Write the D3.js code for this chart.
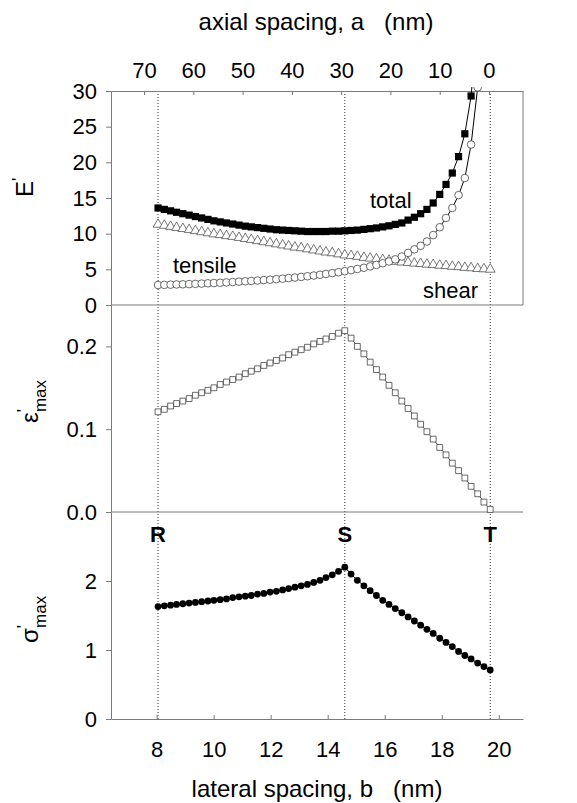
<!DOCTYPE html>
<html>
<head>
<meta charset="utf-8">
<script src="https://cdn.jsdelivr.net/npm/d3@7/dist/d3.min.js"></script>
<style>
body { margin: 0; background: #fff; }
text { font-family: "Liberation Sans", Arial, sans-serif; }
</style>
</head>
<body>
<script>
//lateral spacing b (nm) of each computed point, going R -> S -> T
var lateral = [8.05, 8.27, 8.49, 8.70, 8.92, 9.14, 9.36, 9.58, 9.80, 10.01,
    10.23, 10.45, 10.67, 10.89, 11.11, 11.32, 11.54, 11.76, 11.98, 12.20,
    12.42, 12.63, 12.85, 13.07, 13.29, 13.51, 13.73, 13.94, 14.16, 14.38,
    14.60, 14.82, 15.04, 15.27, 15.49, 15.71, 15.93, 16.15, 16.37, 16.60,
    16.82, 17.04, 17.26, 17.48, 17.70, 17.93, 18.15, 18.37, 18.59, 18.81,
    19.03, 19.26, 19.48, 19.70];
//E' components
var total = [13.6, 13.4, 13.2, 13.0, 12.8, 12.6, 12.4, 12.2, 12.0, 11.8,
    11.65, 11.5, 11.35, 11.2, 11.05, 10.95, 10.85, 10.75, 10.65, 10.55,
    10.5, 10.45, 10.4, 10.35, 10.3, 10.3, 10.3, 10.3, 10.35, 10.35,
    10.4, 10.45, 10.5, 10.6, 10.7, 10.8, 10.95, 11.1, 11.3, 11.5,
    11.9, 12.3, 12.8, 13.4, 14.3, 15.5, 16.9, 18.5, 20.8, 24.0,
    29.3, 40, 60, 100];
var tensile = [2.8, 2.82, 2.85, 2.88, 2.9, 2.93, 2.96, 3.0, 3.04, 3.08,
    3.12, 3.17, 3.22, 3.27, 3.32, 3.37, 3.43, 3.49, 3.55, 3.62,
    3.69, 3.77, 3.85, 3.94, 4.03, 4.13, 4.24, 4.35, 4.47, 4.6,
    4.74, 4.89, 5.05, 5.22, 5.41, 5.62, 5.85, 6.1, 6.4, 6.8,
    7.3, 7.8, 8.3, 8.9, 9.8, 10.9, 12.2, 13.6, 15.4, 17.8,
    22.5, 30.5, 45, 80];
var shear = [11.3, 11.15, 11.0, 10.85, 10.7, 10.55, 10.4, 10.25, 10.1, 9.95,
    9.85, 9.7, 9.6, 9.45, 9.3, 9.15, 9.0, 8.85, 8.7, 8.55,
    8.4, 8.25, 8.1, 8.0, 7.85, 7.7, 7.55, 7.4, 7.3, 7.15,
    7.0, 6.9, 6.8, 6.65, 6.55, 6.45, 6.35, 6.25, 6.1, 6.0,
    5.95, 5.85, 5.8, 5.7, 5.65, 5.55, 5.5, 5.4, 5.35, 5.25,
    5.2, 5.1, 5.05, 5.0];
//maximum strain and stress
var strainMax = [0.121, 0.124, 0.128, 0.131, 0.134, 0.137, 0.141, 0.144, 0.147, 0.150,
    0.154, 0.157, 0.160, 0.163, 0.167, 0.170, 0.173, 0.177, 0.180, 0.183,
    0.186, 0.190, 0.193, 0.196, 0.199, 0.203, 0.206, 0.209, 0.212, 0.216,
    0.219, 0.210, 0.200, 0.191, 0.181, 0.172, 0.163, 0.153, 0.144, 0.134,
    0.125, 0.116, 0.106, 0.097, 0.088, 0.078, 0.069, 0.059, 0.050, 0.041,
    0.031, 0.022, 0.012, 0.003];
var stressMax = [1.63, 1.64, 1.65, 1.66, 1.67, 1.68, 1.69, 1.70, 1.71, 1.72,
    1.73, 1.74, 1.76, 1.77, 1.78, 1.79, 1.81, 1.82, 1.84, 1.85,
    1.87, 1.89, 1.91, 1.93, 1.95, 1.98, 2.01, 2.05, 2.09, 2.14,
    2.20, 2.10, 2.01, 1.93, 1.86, 1.79, 1.72, 1.66, 1.60, 1.54,
    1.48, 1.42, 1.36, 1.30, 1.24, 1.17, 1.11, 1.05, 0.98, 0.92,
    0.87, 0.81, 0.76, 0.71];
//ticks
var axialTicks = [0, 10, 20, 30, 40, 50, 60, 70];
var lateralTicks = [8, 10, 12, 14, 16, 18, 20];
var eTicks = [0, 5, 10, 15, 20, 25, 30];
var strainTicks = [0, 0.1, 0.2];
var stressTicks = [0, 1, 2];
//special points (index into lateral)
var marks = [{name: "R", i: 0}, {name: "S", i: 30}, {name: "T", i: 53}];

window.onload = function(){
    var w = 577, h = 803;
    var svg = d3.select("body")
        .append("svg")
        .attr("width", w)
        .attr("height", h);

    var x = d3.scaleLinear().domain([6.4, 20.85]).range([111, 523]);
    var xTop = d3.scaleLinear().domain([76.7, -6.9]).range([111, 523]);
    var yE = d3.scaleLinear().domain([0, 30]).range([305, 91]);
    var yEps = d3.scaleLinear().domain([0, 0.25]).range([512, 305]);
    var ySig = d3.scaleLinear().domain([0, 3]).range([719, 512]);

    var axisColor = "#7a7a7a";
    function styleAxis(g){
        g.attr("font-family", "'Liberation Sans', Arial, sans-serif")
            .attr("font-size", 22);
        g.select(".domain").attr("stroke", axisColor);
        g.selectAll(".tick line").attr("stroke", axisColor);
        g.selectAll(".tick text").attr("fill", "#000");
    }

//dotted guide lines at R, S, T
    svg.selectAll(".guide")
        .data(marks)
        .enter()
        .append("line")
        .attr("class", "guide")
        .attr("x1", function(d){ return x(lateral[d.i]); })
        .attr("x2", function(d){ return x(lateral[d.i]); })
        .attr("y1", yE(30))
        .attr("y2", ySig(0))
        .attr("stroke", "#333")
        .attr("stroke-width", 1)
        .attr("stroke-dasharray", "1,2");

//axes
    svg.append("g")
        .attr("transform", "translate(0," + yE(30) + ")")
        .call(d3.axisTop(xTop).tickValues(axialTicks).tickSizeInner(-4).tickSizeOuter(0).tickPadding(13))
        .call(styleAxis);
    svg.append("g")
        .attr("transform", "translate(0," + ySig(0) + ")")
        .call(d3.axisBottom(x).tickValues(lateralTicks).tickSizeInner(-4).tickSizeOuter(0).tickPadding(22))
        .call(styleAxis);
    svg.append("g")
        .attr("transform", "translate(" + x.range()[0] + ",0)")
        .call(d3.axisLeft(yE).tickValues(eTicks).tickFormat(d3.format("d")).tickSize(5).tickSizeOuter(0).tickPadding(9))
        .call(styleAxis);
    svg.append("g")
        .attr("transform", "translate(" + x.range()[0] + ",0)")
        .call(d3.axisLeft(yEps).tickValues(strainTicks).tickFormat(d3.format(".1f")).tickSize(5).tickSizeOuter(0).tickPadding(9))
        .call(styleAxis);
    svg.append("g")
        .attr("transform", "translate(" + x.range()[0] + ",0)")
        .call(d3.axisLeft(ySig).tickValues(stressTicks).tickFormat(d3.format("d")).tickSize(5).tickSizeOuter(0).tickPadding(9))
        .call(styleAxis);
//panel separators and right border of top panel
    [yE(0), yEps(0)].forEach(function(y0){
        svg.append("line")
            .attr("x1", x.range()[0]).attr("x2", x.range()[1])
            .attr("y1", y0).attr("y2", y0)
            .attr("stroke", axisColor);
    });
    svg.append("line")
        .attr("x1", x.range()[1]).attr("x2", x.range()[1])
        .attr("y1", yE(30)).attr("y2", yE(0))
        .attr("stroke", axisColor);

//top panel series, clipped to the panel
    svg.append("clipPath")
        .attr("id", "topclip")
        .append("rect")
        .attr("x", x.range()[0])
        .attr("y", yE(30) - 4)
        .attr("width", x.range()[1] - x.range()[0])
        .attr("height", yE(0) - yE(30) + 4);
    var top = svg.append("g").attr("clip-path", "url(#topclip)");

    function series(values){
        return values.map(function(v, i){ return {b: lateral[i], v: v}; });
    }
    function drawLine(g, data, yScale, color){
        g.append("path")
            .datum(data)
            .attr("fill", "none")
            .attr("stroke", color)
            .attr("stroke-width", 1)
            .attr("d", d3.line()
                .x(function(d){ return x(d.b); })
                .y(function(d){ return yScale(d.v); }));
    }

    var shearData = series(shear);
    drawLine(top, shearData, yE, "#555");
    top.selectAll(".tri")
        .data(shearData)
        .enter()
        .append("path")
        .attr("class", "tri")
        .attr("d", d3.symbol().type(d3.symbolTriangle).size(42))
        .attr("transform", function(d){ return "translate(" + x(d.b) + "," + yE(d.v) + ")"; })
        .attr("fill", "#fff")
        .attr("stroke", "#555")
        .attr("stroke-width", 0.8);

    var tensileData = series(tensile);
    drawLine(top, tensileData, yE, "#000");
    top.selectAll(".circ")
        .data(tensileData)
        .enter()
        .append("circle")
        .attr("class", "circ")
        .attr("cx", function(d){ return x(d.b); })
        .attr("cy", function(d){ return yE(d.v); })
        .attr("r", 3.8)
        .attr("fill", "#fff")
        .attr("stroke", "#444")
        .attr("stroke-width", 0.8);

    var totalData = series(total);
    drawLine(top, totalData, yE, "#000");
    top.selectAll(".sq")
        .data(totalData)
        .enter()
        .append("path")
        .attr("class", "sq")
        .attr("d", d3.symbol().type(d3.symbolSquare).size(52))
        .attr("transform", function(d){ return "translate(" + x(d.b) + "," + yE(d.v) + ")"; })
        .attr("fill", "#000");

//middle panel: max strain
    var strainData = series(strainMax);
    drawLine(svg, strainData, yEps, "#555");
    svg.selectAll(".osq")
        .data(strainData)
        .enter()
        .append("path")
        .attr("class", "osq")
        .attr("d", d3.symbol().type(d3.symbolSquare).size(34))
        .attr("transform", function(d){ return "translate(" + x(d.b) + "," + yEps(d.v) + ")"; })
        .attr("fill", "#fff")
        .attr("stroke", "#444")
        .attr("stroke-width", 0.8);

//bottom panel: max stress
    var stressData = series(stressMax);
    drawLine(svg, stressData, ySig, "#000");
    svg.selectAll(".dot")
        .data(stressData)
        .enter()
        .append("circle")
        .attr("class", "dot")
        .attr("cx", function(d){ return x(d.b); })
        .attr("cy", function(d){ return ySig(d.v); })
        .attr("r", 3.4)
        .attr("fill", "#000");

//R S T labels
    svg.selectAll(".mark")
        .data(marks)
        .enter()
        .append("text")
        .attr("class", "mark")
        .attr("x", function(d){ return x(lateral[d.i]); })
        .attr("y", ySig(3) + 30)
        .attr("text-anchor", "middle")
        .attr("font-size", 22)
        .attr("font-weight", "bold")
        .text(function(d){ return d.name; });

//series labels
    var labels = [
        {t: "total", x: 370, y: 208, a: "start"},
        {t: "tensile", x: 173, y: 273, a: "start"},
        {t: "shear", x: 478, y: 298, a: "end"}
    ];
    svg.selectAll(".lab")
        .data(labels)
        .enter()
        .append("text")
        .attr("class", "lab")
        .attr("x", function(d){ return d.x; })
        .attr("y", function(d){ return d.y; })
        .attr("text-anchor", function(d){ return d.a; })
        .attr("font-size", 22)
        .text(function(d){ return d.t; });

//axis titles
    svg.append("text")
        .attr("x", 316).attr("y", 30)
        .attr("text-anchor", "middle")
        .attr("font-size", 24)
        .style("white-space", "pre")
        .text("axial spacing, a   (nm)");
    svg.append("text")
        .attr("x", 317).attr("y", 797)
        .attr("text-anchor", "middle")
        .attr("font-size", 24)
        .style("white-space", "pre")
        .text("lateral spacing, b   (nm)");

    function yTitle(px, py, main, sub){
        var t = svg.append("text")
            .attr("transform", "translate(" + px + "," + py + ") rotate(-90)")
            .attr("font-size", 24);
        t.append("tspan").text(main);
        t.append("tspan").attr("dy", -9).attr("font-size", 17).text("'");
        if (sub) {
            t.append("tspan").attr("dx", -3).attr("dy", 17).attr("font-size", 17).text(sub);
        }
    }
    yTitle(33, 197, "E");
    yTitle(38, 423, "\u03b5", "max");
    yTitle(38, 643, "\u03c3", "max");
};
</script>
</body>
</html>
